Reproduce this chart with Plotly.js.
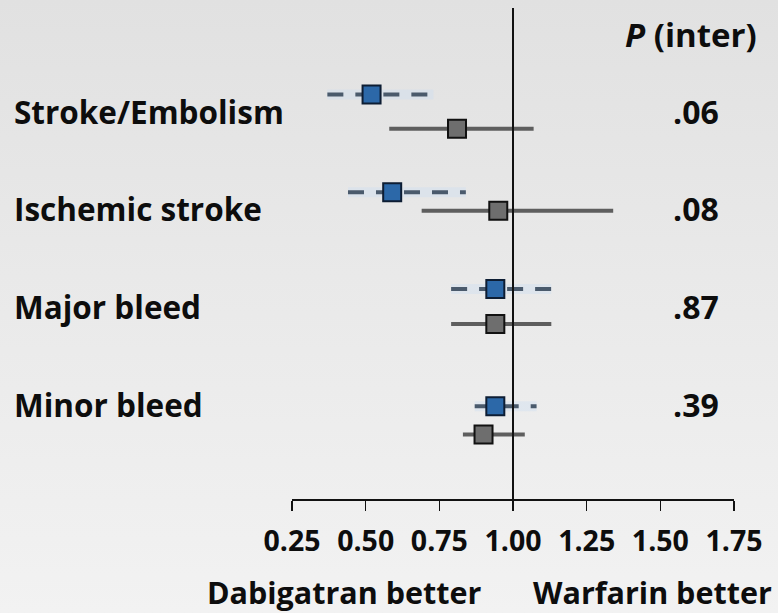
<!DOCTYPE html>
<html>
<head>
<meta charset="utf-8">
<script src="https://cdn.plot.ly/plotly-3.0.1.min.js"></script>
<style>
  html, body { margin: 0; padding: 0; }
  body { width: 778px; height: 613px; background: linear-gradient(to bottom, #e1e1e1 0%, #e9e9e9 45%, #f2f2f2 100%); }
  #chart { width: 778px; height: 613px; }
</style>
</head>
<body>
<div id="chart"></div>
<script>
// Outcomes (one row each) and their interaction P values
const outcomes = ["Stroke/Embolism", "Ischemic stroke", "Major bleed", "Minor bleed"];
const pInter = [".06", ".08", ".87", ".39"];

// Hazard ratios with 95% CI – blue (dashed) subgroup
const blueHR = [0.52, 0.59, 0.94, 0.94];
const blueLo = [0.37, 0.44, 0.79, 0.87];
const blueHi = [0.73, 0.84, 1.13, 1.08];
const blueRow = [0.83, 1.83, 2.82, 4.02];

// Hazard ratios with 95% CI – gray (solid) subgroup
const grayHR = [0.81, 0.95, 0.94, 0.90];
const grayLo = [0.58, 0.69, 0.79, 0.83];
const grayHi = [1.07, 1.34, 1.13, 1.04];
const grayRow = [1.18, 2.02, 3.18, 4.31];

// Axis ticks
const tickVals = [0.25, 0.5, 0.75, 1.0, 1.25, 1.5, 1.75];
const tickText = ["0.25", "0.50", "0.75", "1.00", "1.25", "1.50", "1.75"];

const FONT = "'Open Sans', sans-serif";
const INK = "#0d0d0d";
const BLUE_LINE = "#4a5a6c";
const GRAY_LINE = "#5e5e5e";

const traces = [];

// Confidence interval segments
outcomes.forEach((name, i) => {
  traces.push({
    type: "scatter", mode: "lines", hoverinfo: "skip", showlegend: false,
    x: [blueLo[i], blueHi[i]], y: [blueRow[i], blueRow[i]],
    line: { color: "rgba(200,222,244,0.35)", width: 10 }
  });
  traces.push({
    type: "scatter", mode: "lines", hoverinfo: "skip", showlegend: false,
    x: [blueLo[i], blueHi[i]], y: [blueRow[i], blueRow[i]],
    line: { color: BLUE_LINE, width: 4, dash: "16px,12px" }
  });
  traces.push({
    type: "scatter", mode: "lines", hoverinfo: "skip", showlegend: false,
    x: [grayLo[i], grayHi[i]], y: [grayRow[i], grayRow[i]],
    line: { color: GRAY_LINE, width: 4 }
  });
});

// Point estimates
traces.push({
  type: "scatter", mode: "markers", showlegend: false,
  x: blueHR, y: blueRow, text: outcomes,
  marker: { symbol: "square", size: 18, color: "#2c68a8", line: { color: "#0d1d33", width: 2 } }
});
traces.push({
  type: "scatter", mode: "markers", showlegend: false,
  x: grayHR, y: grayRow, text: outcomes,
  marker: { symbol: "square", size: 18, color: "#6e6e6e", line: { color: "#111111", width: 2 } }
});

const annotations = [];
outcomes.forEach((name, i) => {
  annotations.push({
    text: "<b>" + name + "</b>", xref: "paper", yref: "y",
    x: -0.634, y: i + 1, xanchor: "left", yanchor: "middle", showarrow: false,
    font: { family: FONT, size: 31.5, color: INK }
  });
  annotations.push({
    text: "<b>" + pInter[i] + "</b>", xref: "paper", yref: "y",
    x: 0.857, y: i + 1, xanchor: "left", yanchor: "middle", showarrow: false,
    font: { family: FONT, size: 32, color: INK }
  });
});
annotations.push({
  text: "<b><i>P</i> (inter)</b>", xref: "paper", yref: "y",
  x: 0.748, y: 0.22, xanchor: "left", yanchor: "middle", showarrow: false,
  font: { family: FONT, size: 33, color: INK }
});
annotations.push({
  text: "<b>Dabigatran better</b>", xref: "paper", yref: "paper",
  x: 0.434, y: -0.19, xanchor: "right", yanchor: "middle", showarrow: false,
  font: { family: FONT, size: 30.5, color: INK }
});
annotations.push({
  text: "<b>Warfarin better</b>", xref: "paper", yref: "paper",
  x: 0.54, y: -0.19, xanchor: "left", yanchor: "middle", showarrow: false,
  font: { family: FONT, size: 30.5, color: INK }
});

const layout = {
  width: 778, height: 613,
  margin: { l: 292, r: 44, t: 8, b: 114 },
  paper_bgcolor: "rgba(0,0,0,0)",
  plot_bgcolor: "rgba(0,0,0,0)",
  showlegend: false,
  xaxis: {
    range: [0.25, 1.75], tickvals: tickVals, ticktext: tickText,
    showline: true, linecolor: "#111111", linewidth: 1.5,
    ticks: "outside", ticklen: 10, tickwidth: 1.5, tickcolor: "#111111",
    ticklabelstandoff: 6,
    showgrid: false, zeroline: false, fixedrange: true,
    tickfont: { family: FONT, size: 28.5, color: INK, weight: "bold" }
  },
  yaxis: {
    range: [4.97, -0.055], visible: false, showgrid: false, zeroline: false, fixedrange: true
  },
  shapes: [{
    type: "line", xref: "x", yref: "paper", x0: 1, x1: 1, y0: 0, y1: 1,
    line: { color: "#111111", width: 2 }
  }],
  annotations: annotations
};

Plotly.newPlot("chart", traces, layout, { staticPlot: true, displayModeBar: false });
</script>
</body>
</html>
